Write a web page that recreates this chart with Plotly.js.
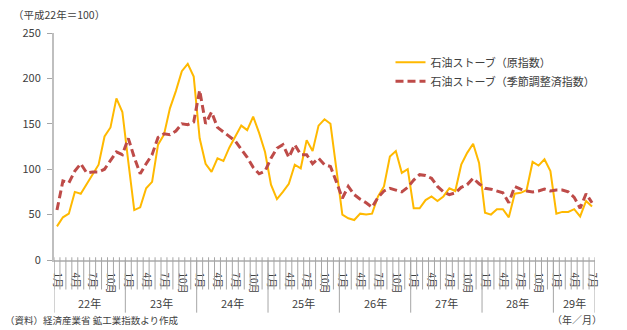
<!DOCTYPE html>
<html>
<head>
<meta charset="utf-8">
<script src="https://cdn.plot.ly/plotly-3.0.1.min.js"></script>
<style>
html,body{margin:0;padding:0;background:#fff;}
#chart{width:627px;height:330px;}
</style>
</head>
<body>
<div id="chart"></div>
<script>
// ---- data ----
const yearLabels = ['22年','23年','24年','25年','26年','27年','28年','29年'];
const monthsPerYear = [12,12,12,12,12,12,12,7];
const monthTickLabels = {1:'1月',4:'4月',7:'7月',10:'10月'};
const seriesNames = ['石油ストーブ（原指数）','石油ストーブ（季節調整済指数）'];

// 原指数 (raw index), Jan 2010 (H22) .. Jul 2017 (H29)
const rawIndex = [
  37, 47, 51, 75, 73, 84, 94, 105, 136, 146, 178, 163,
  108, 55, 58, 79, 86, 127, 138, 167, 186, 208, 216, 202,
  134, 106, 97, 112, 109, 124, 136, 148, 143, 158, 140, 119,
  83, 67, 75, 84, 105, 101, 132, 120, 148, 155, 150, 100,
  50, 46, 44, 51, 50, 51, 70, 81, 114, 120, 96, 100,
  57, 57, 66, 70, 65, 70, 79, 76, 105, 118, 128, 107,
  52, 50, 56, 56, 47, 73, 74, 77, 108, 104, 111, 98,
  51, 53, 53, 56, 48, 65, 59
];
// 季節調整済指数 (seasonally adjusted index)
const saIndex = [
  55, 87, 85, 98, 106, 96, 97, 97, 100, 110, 119, 116,
  134, 113, 95, 106, 116, 135, 139, 138, 142, 150, 149, 152,
  187, 150, 163, 146, 141, 137, 131, 122, 113, 102, 95, 98,
  112, 123, 127, 113, 127, 116, 116, 106, 112, 105, 103, 86,
  68, 81, 72, 67, 63, 58, 69, 76, 79, 77, 75, 80,
  88, 94, 93, 90, 81, 75, 72, 74, 80, 83, 90, 84,
  79, 78, 76, 74, 63, 81, 78, 76, 75, 76, 78, 76,
  77, 77, 75, 69, 57, 73, 63
];

// ---- derived categories ----
const xIdx = [], monthOf = [];
monthsPerYear.forEach((n) => { for (let m = 1; m <= n; m++) { monthOf.push(m); xIdx.push(xIdx.length); } });
const tickvals = [], ticktext = [];
xIdx.forEach((i) => { if (monthTickLabels[monthOf[i]]) { tickvals.push(i); ticktext.push(monthTickLabels[monthOf[i]]); } });

const FONT = '"Noto Sans CJK JP", "Noto Sans", sans-serif';
const TXT = '#404040';

const shapes = [];
// month boundary tick lines
for (let k = 0; k <= xIdx.length; k++) {
  shapes.push({type:'line', xref:'x', yref:'paper', x0:k-0.5, x1:k-0.5, y0:0.012, y1:-0.13,
    line:{color:'#a6a6a6', width:1}});
}
// year separators
const annotations = [];
let start = 0;
monthsPerYear.forEach((n, yi) => {
  shapes.push({type:'line', xref:'x', yref:'paper', x0:start-0.5, x1:start-0.5, y0:0, y1:-0.232,
    line:{color:'#a6a6a6', width:1}});
  annotations.push({xref:'x', yref:'paper', x:start + (n-1)/2, y:-0.19, text:yearLabels[yi],
    showarrow:false, xanchor:'center', yanchor:'middle', font:{size:11, color:TXT, family:FONT}});
  start += n;
});
shapes.push({type:'line', xref:'x', yref:'paper', x0:start-0.5, x1:start-0.5, y0:0, y1:-0.232,
  line:{color:'#a6a6a6', width:1}});

annotations.push({xref:'paper', yref:'paper', x:-0.08, y:1.08, xanchor:'left', yanchor:'middle',
  text:'（平成22年＝100）', showarrow:false, font:{size:10.5, color:TXT, family:FONT}});
annotations.push({xref:'paper', yref:'paper', x:-0.095, y:-0.266, xanchor:'left', yanchor:'middle',
  text:'（資料）経済産業省 鉱工業指数より作成', showarrow:false, font:{size:9.5, color:TXT, family:FONT}});
annotations.push({xref:'paper', yref:'paper', x:1.016, y:-0.262, xanchor:'right', yanchor:'middle',
  text:'（年／月）', showarrow:false, font:{size:10, color:TXT, family:FONT}});

const traces = [
  {x:xIdx, y:rawIndex, name:seriesNames[0], type:'scatter', mode:'lines',
   line:{color:'#FFB900', width:2}},
  {x:xIdx, y:saIndex, name:seriesNames[1], type:'scatter', mode:'lines',
   line:{color:'#BE4B48', width:3, dash:'8px,4px'}}
];

const layout = {
  width:627, height:330,
  margin:{l:54, r:32, t:33, b:70},
  paper_bgcolor:'#fff', plot_bgcolor:'#fff',
  font:{family:FONT, color:TXT},
  showlegend:true,
  legend:{x:0.622, y:0.935, xanchor:'left', yanchor:'top', bgcolor:'rgba(0,0,0,0)',
    font:{size:11, color:TXT, family:FONT}, tracegroupgap:0},
  xaxis:{range:[-0.5, xIdx.length-0.5], tickmode:'array', tickvals:tickvals, ticktext:ticktext,
    tickangle:90, ticks:'', showgrid:false, zeroline:false, showline:true, linecolor:'#bfbfbf', linewidth:1.5,
    tickfont:{size:10, color:TXT, family:FONT}, ticklabelstandoff:9, fixedrange:true},
  yaxis:{range:[0,250], tickvals:[0,50,100,150,200,250], ticks:'outside', ticklen:5, tickcolor:'#a6a6a6',
    showgrid:false, zeroline:false, showline:true, linecolor:'#bfbfbf', linewidth:2,
    tickfont:{size:11, color:TXT, family:FONT}, ticklabelstandoff:4, fixedrange:true},
  shapes:shapes,
  annotations:annotations
};

Plotly.newPlot('chart', traces, layout, {displayModeBar:false, staticPlot:true});
</script>
</body>
</html>
